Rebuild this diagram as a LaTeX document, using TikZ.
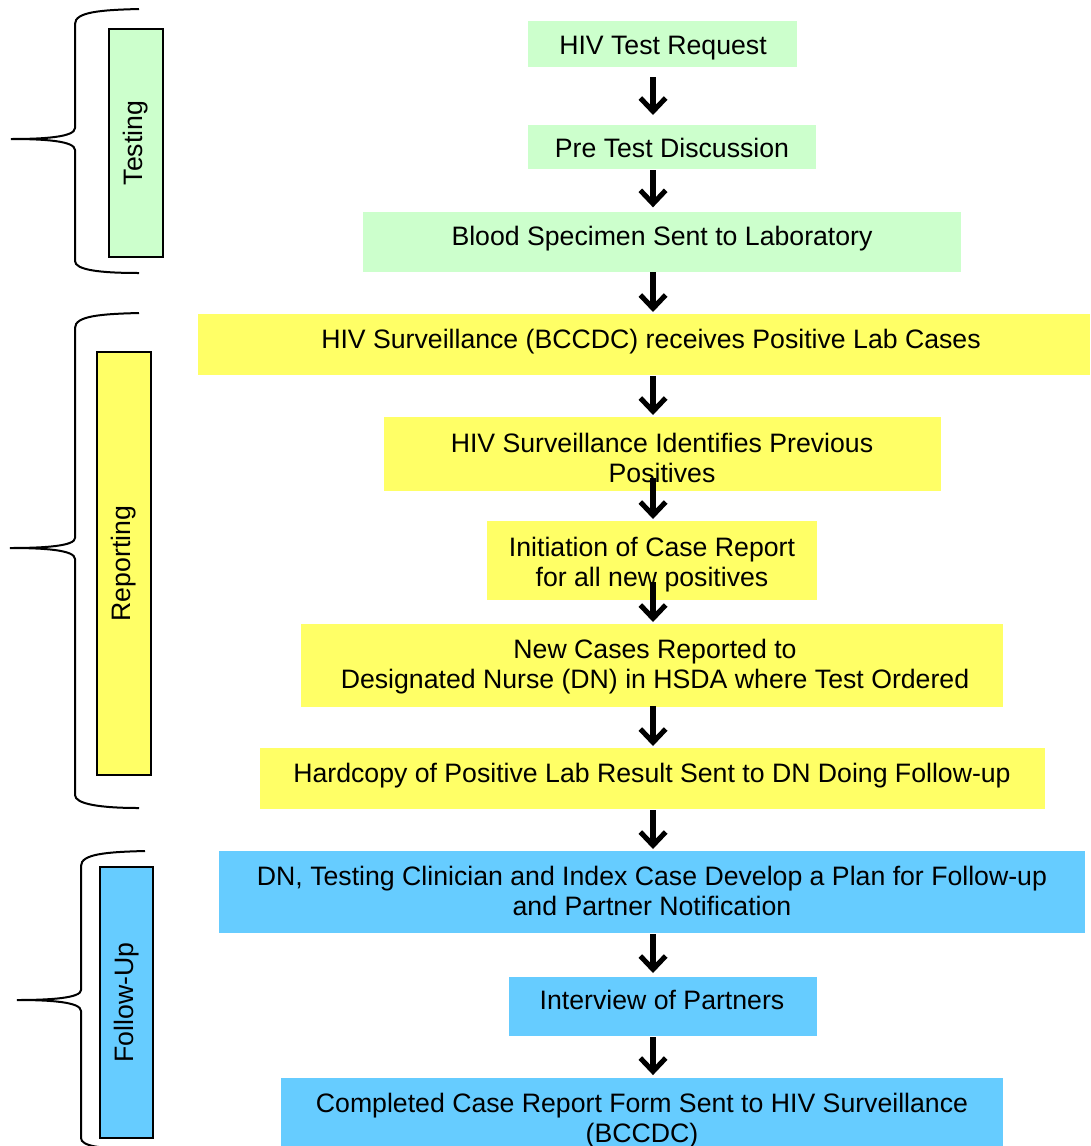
\documentclass[tikz,border=0pt]{standalone}
\usepackage{fontspec}
\setmainfont{Liberation Sans}
\usetikzlibrary{arrows.meta,fit}
\definecolor{tgreen}{HTML}{CCFFCC}
\definecolor{ryellow}{HTML}{FFFF66}
\definecolor{fblue}{HTML}{66CCFF}
\begin{document}
\begin{tikzpicture}[x=0.75pt,y=-0.75pt,
  bx/.style={inner sep=0pt, outer sep=0pt},
  txt/.style={font=\fontsize{20}{22.5}\selectfont, align=center, anchor=base, inner sep=0pt},
  sidebox/.style={draw=black, line width=1.3pt, inner sep=0pt, outer sep=0pt},
  sidetxt/.style={font=\fontsize{20}{22.5}\selectfont, rotate=90, inner sep=0pt},
  brace/.style={line width=1.5pt},
  flow/.style={line width=3.8pt, -{Straight Barb[length=10pt,width=19pt]}}]
\useasboundingbox (0,0) rectangle (1090,1146);
\coordinate (ax) at (653,0);

% ---- flow boxes ----
\node[bx, fill=tgreen, fit={(528,21) (797,67)}] (b1) {};
\node[bx, fill=tgreen, fit={(528,125) (816,169)}] (b2) {};
\node[bx, fill=tgreen, fit={(363,212) (961,272)}] (b3) {};
\node[bx, fill=ryellow, fit={(198,314) (1090,375)}] (b4) {};
\node[bx, fill=ryellow, fit={(384,417) (941,491)}] (b5) {};
\node[bx, fill=ryellow, fit={(487,521) (817,600)}] (b6) {};
\node[bx, fill=ryellow, fit={(301,624) (1003,707)}] (b7) {};
\node[bx, fill=ryellow, fit={(260,748) (1045,809)}] (b8) {};
\node[bx, fill=fblue, fit={(219,851) (1085,933)}] (b9) {};
\node[bx, fill=fblue, fit={(509,977) (817,1036)}] (b10) {};
\node[bx, fill=fblue, fit={(281,1078) (1003,1146)}] (b11) {};

% ---- texts ----
\begin{scope}
\clip (b1.south west) rectangle (b1.north east);
\node[txt] (t1) at (663,54) {HIV Test Request};
\end{scope}
\node[txt] (t2) at (672,157) {Pre Test Discussion};
\node[txt] (t3) at (662,245) {Blood Specimen Sent to Laboratory};
\node[txt] (t4) at (651,348) {HIV Surveillance (BCCDC) receives Positive Lab Cases};
\begin{scope}
\clip (384,417) rectangle (941,483);
\node[txt] (t5) at (662,482) {HIV Surveillance Identifies Previous\\Positives};
\end{scope}
\node[txt] (t6) at (652,586) {Initiation of Case Report\\for all new positives};
\node[txt] (t7) at (655,688) {New Cases Reported to\\Designated Nurse (DN) in HSDA where Test Ordered};
\node[txt] (t8) at (652,782) {Hardcopy of Positive Lab Result Sent to DN Doing Follow-up};
\node[txt] (t9) at (652,915) {DN, Testing Clinician and Index Case Develop a Plan for Follow-up\\and Partner Notification};
\node[txt] (t10) at (662,1009) {Interview of Partners};
\node[txt] (t11) at (642,1142) {Completed Case Report Form Sent to HIV Surveillance\\(BCCDC)};

% ---- arrows ----
\foreach \a/\b/\s/\e in {b1/b2/7.5/7.5, b2/b3/0.8/3.5, b3/b4/0/1.5, b4/b5/0.8/1.5,
  b5/b6/-9.8/1.5, b6/b7/-13.5/1.5, b7/b8/-0.8/1.5, b8/b9/0.8/1.5, b9/b10/0.8/3, b10/b11/0.8/2.2}
  \draw[flow, shorten <=\s pt, shorten >=\e pt] (\a.south -| ax) -- (\b.north -| ax);

% ---- side labels ----
\node[sidebox, fill=tgreen, fit={(109,29) (163,257)}] (s1) {};
\node[sidetxt] (st1) at (s1.center) {Testing};
\node[sidebox, fill=ryellow, fit={(97,352) (151,775)}] (s2) {};
\node[sidetxt] (st2) at (s2.center) {Reporting};
\node[sidebox, fill=fblue, fit={(100,867) (153,1138)}] (s3) {};
\node[sidetxt] (st3) at (s3.center) {Follow-Up};

% ---- braces ----
\draw[brace] (139,9) .. controls (100,10) and (75,12) .. (75,24) -- (75,128)
  .. controls (75,137) and (45,139) .. (11,139)
  .. controls (45,139) and (75,141) .. (75,150) -- (75,261)
  .. controls (75,270) and (100,273) .. (139,273);
\draw[brace] (139,313) .. controls (100,314) and (75,316) .. (75,328) -- (75,538)
  .. controls (75,546) and (45,548) .. (10,548)
  .. controls (45,548) and (75,550) .. (75,559) -- (75,795)
  .. controls (75,804) and (100,808) .. (139,808);
\draw[brace] (145,851) .. controls (106,852) and (81,854) .. (81,866) -- (81,990)
  .. controls (81,998) and (51,1000) .. (17,1000)
  .. controls (51,1000) and (81,1002) .. (81,1011) -- (81,1138)
  .. controls (81,1146) and (100,1149) .. (139,1149);
\end{tikzpicture}
\end{document}
